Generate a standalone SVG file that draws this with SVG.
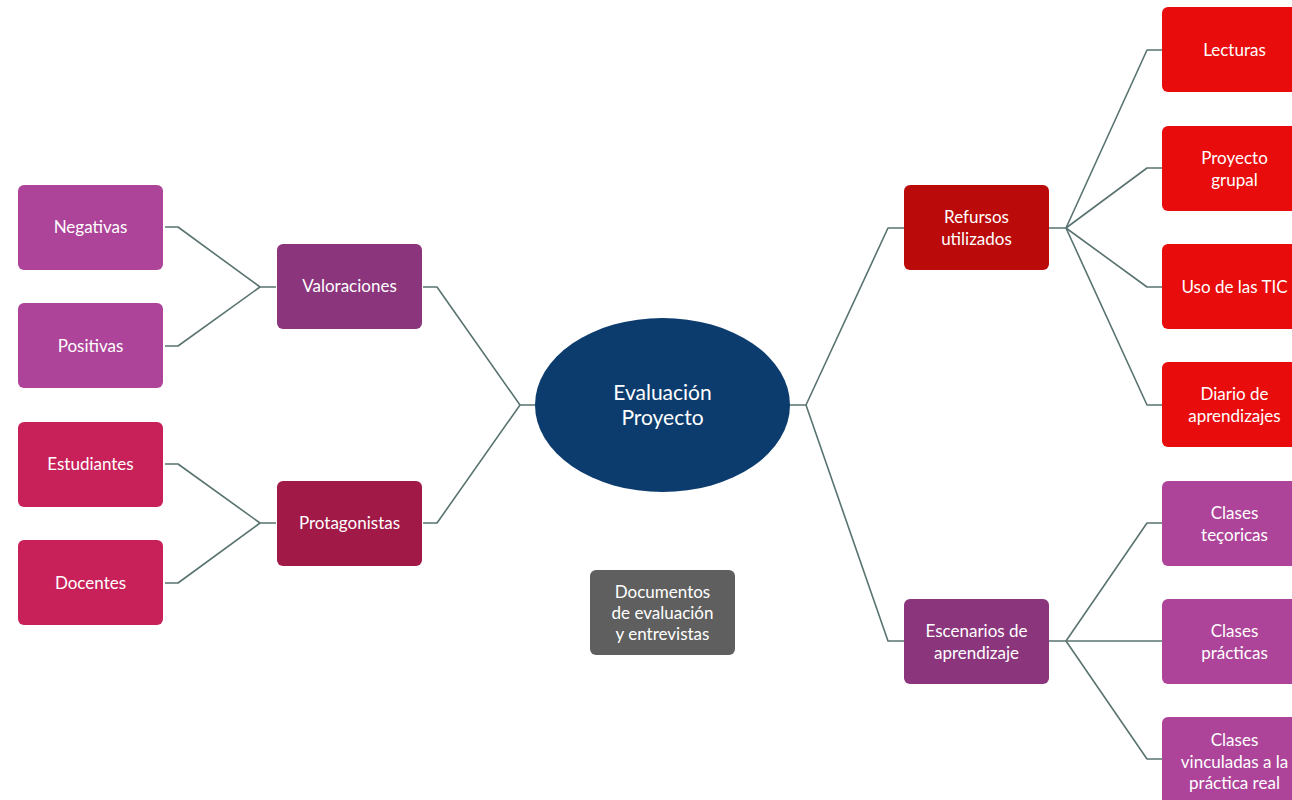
<svg xmlns="http://www.w3.org/2000/svg" width="1292" height="800" viewBox="0 0 1292 800">
<style>
.t{font-family:Lato,"Open Sans","Liberation Sans",sans-serif;font-size:17px;fill:#fff;text-anchor:middle}
.big{font-size:21px}
.c{fill:none;stroke:#587370;stroke-width:1.6;stroke-linejoin:round}
.pk{fill:#ad4499}.vi{fill:#8b357c}.rs{fill:#c8215a}.cr{fill:#a11a47}
.rd{fill:#ba0a0a}.re{fill:#e80c0c}.gy{fill:#5f5f5f}.bl{fill:#0c3c6e}
</style>
<rect width="1292" height="800" fill="#fff"/>
<g id="connectors" class="c">
<path d="M165 227H178L260 287H276"/>
<path d="M165 346H178L260 287"/>
<path d="M165 464H178L260 523H276"/>
<path d="M165 583H178L260 523"/>
<path d="M423 287H437L520 405H535"/>
<path d="M423 523H437L520 405"/>
<path d="M790 405H806L888 228H904"/>
<path d="M806 405L888 641H904"/>
<path d="M1049 228H1066L1147 50H1162"/>
<path d="M1066 228L1147 168H1162"/>
<path d="M1066 228L1147 287H1162"/>
<path d="M1066 228L1147 405H1162"/>
<path d="M1049 641H1066L1147 523H1162"/>
<path d="M1066 641H1162"/>
<path d="M1066 641L1147 759H1162"/>
</g>
<g id="center"><ellipse cx="662.5" cy="405" rx="127.5" ry="87" class="bl"/><text class="t big" x="662.5" y="400">Evaluación</text><text class="t big" x="662.5" y="425">Proyecto</text></g>
<g id="negativas"><rect x="18" y="185" width="145" height="85" rx="6" class="pk"/><text class="t" x="90.5" y="233">Negativas</text></g>
<g id="positivas"><rect x="18" y="303" width="145" height="85" rx="6" class="pk"/><text class="t" x="90.5" y="352">Positivas</text></g>
<g id="estudiantes"><rect x="18" y="422" width="145" height="85" rx="6" class="rs"/><text class="t" x="90.5" y="470">Estudiantes</text></g>
<g id="docentes"><rect x="18" y="540" width="145" height="85" rx="6" class="rs"/><text class="t" x="90.5" y="589">Docentes</text></g>
<g id="valoraciones"><rect x="277" y="244" width="145" height="85" rx="6" class="vi"/><text class="t" x="349.5" y="292">Valoraciones</text></g>
<g id="protagonistas"><rect x="277" y="481" width="145" height="85" rx="6" class="cr"/><text class="t" x="349.5" y="529">Protagonistas</text></g>
<g id="documentos"><rect x="590" y="570" width="145" height="85" rx="6" class="gy"/><text class="t" x="662.5" y="598">Documentos</text><text class="t" x="662.5" y="619">de evaluación</text><text class="t" x="662.5" y="640">y entrevistas</text></g>
<g id="refursos"><rect x="904" y="185" width="145" height="85" rx="6" class="rd"/><text class="t" x="976.5" y="223">Refursos</text><text class="t" x="976.5" y="245">utilizados</text></g>
<g id="escenarios"><rect x="904" y="599" width="145" height="85" rx="6" class="vi"/><text class="t" x="976.5" y="637">Escenarios de</text><text class="t" x="976.5" y="659">aprendizaje</text></g>
<g id="lecturas"><rect x="1162" y="7" width="145" height="85" rx="6" class="re"/><text class="t" x="1234.5" y="56">Lecturas</text></g>
<g id="proyecto"><rect x="1162" y="126" width="145" height="85" rx="6" class="re"/><text class="t" x="1234.5" y="164">Proyecto</text><text class="t" x="1234.5" y="186">grupal</text></g>
<g id="tic"><rect x="1162" y="244" width="145" height="85" rx="6" class="re"/><text class="t" x="1234.5" y="293">Uso de las TIC</text></g>
<g id="diario"><rect x="1162" y="362" width="145" height="85" rx="6" class="re"/><text class="t" x="1234.5" y="400">Diario de</text><text class="t" x="1234.5" y="422">aprendizajes</text></g>
<g id="teoricas"><rect x="1162" y="481" width="145" height="85" rx="6" class="pk"/><text class="t" x="1234.5" y="519">Clases</text><text class="t" x="1234.5" y="541">teçoricas</text></g>
<g id="practicas"><rect x="1162" y="599" width="145" height="85" rx="6" class="pk"/><text class="t" x="1234.5" y="637">Clases</text><text class="t" x="1234.5" y="659">prácticas</text></g>
<g id="vinculadas"><rect x="1162" y="717" width="145" height="90" rx="6" class="pk"/><text class="t" x="1234.5" y="746">Clases</text><text class="t" x="1234.5" y="768">vinculadas a la</text><text class="t" x="1234.5" y="789">práctica real</text></g>
</svg>
